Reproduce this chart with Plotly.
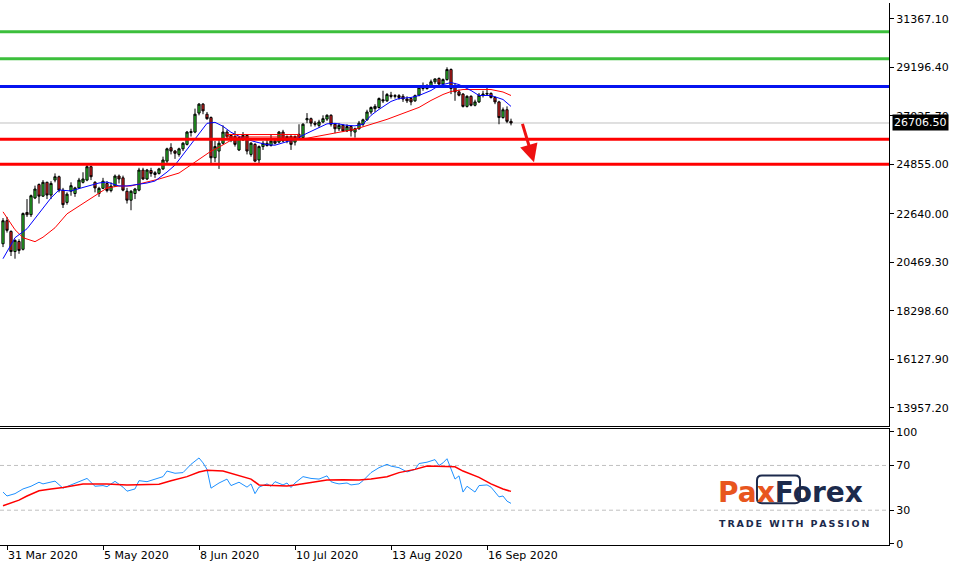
import pandas as pd
import plotly.graph_objects as go

# ---------------- categories (daily bars, US30 CFD) ----------------
_bd = pd.bdate_range("2020-03-30", "2020-09-24")
dates = [d.strftime("%Y-%m-%d") for d in _bd if d.strftime("%Y-%m-%d") != "2020-04-10"]

# ---------------- candle values ----------------
opens = [21300, 22330, 21850, 20950, 21400, 21050, 22700, 22600, 23350, 23950,
         23430, 24050, 23480, 24150, 24300, 23700, 23150, 23650, 23550, 23800,
         24050, 24150, 24750, 24050, 23550, 23780, 24000, 23680, 23880, 24330,
         24250, 23650, 23250, 23550, 23700, 24600, 24200, 24580, 24400, 24450,
         24650, 25000, 25600, 25450, 25300, 25550, 25750, 26280, 26300, 27150,
         27550, 27100, 26950, 25150, 25450, 25800, 26300, 26150, 26100, 25500,
         25950, 26150, 25300, 25750, 25050, 25650, 25800, 25700, 25900, 25850,
         26300, 25900, 26100, 25850, 26200, 26050, 26850, 26900, 26700, 26600,
         26750, 26880, 27050, 26650, 26450, 26600, 26350, 26550, 26300, 26450,
         26650, 26850, 27200, 27350, 27400, 27750, 27700, 27950, 27900, 27930,
         27900, 27780, 27800, 27700, 27950, 28250, 28250, 28380, 28550, 28700,
         28450, 28650, 29100, 28350, 28100, 28000, 27450, 27900, 27500, 27650,
         27950, 28000, 28030, 27850, 27650, 26950, 27300, 26780]
highs = [22450, 22500, 21900, 21500, 21500, 22700, 23300, 23500, 23900, 24000,
         24150, 24080, 24100, 24450, 24350, 23800, 23600, 24050, 23850, 24250,
         24500, 24900, 24800, 24100, 23850, 24250, 24100, 24050, 24400, 24400,
         24350, 23800, 23700, 23800, 24700, 24700, 24650, 24700, 24550, 24700,
         25200, 25600, 25800, 25500, 25600, 25850, 26350, 26450, 27350, 27600,
         27600, 27200, 27000, 25900, 25950, 26600, 26400, 26200, 26350, 26100,
         26300, 26200, 25850, 25800, 25700, 25900, 26000, 26200, 25950, 26350,
         26400, 26150, 26200, 26150, 26650, 26700, 27150, 26950, 26800, 26850,
         27050, 27100, 27100, 26700, 26700, 26650, 26650, 26600, 26500, 26800,
         26900, 27300, 27450, 27550, 27850, 28150, 28050, 28100, 28000, 28000,
         28000, 27900, 27850, 27980, 28350, 28520, 28450, 28650, 28700, 28750,
         28700, 29200, 29150, 28500, 28200, 28050, 27950, 27950, 27750, 28050,
         28150, 28350, 28080, 27900, 27700, 27400, 27450, 26900]
lows = [21150, 21800, 20750, 20630, 20850, 21000, 22500, 22500, 23300, 23100,
        23400, 23300, 23300, 24050, 23600, 22900, 23050, 23450, 23400, 23750,
        24000, 24100, 24150, 23600, 23400, 23750, 23600, 23600, 23850, 24000,
        23650, 23100, 22800, 23300, 23650, 24150, 24150, 24300, 24250, 24400,
        24600, 24900, 25300, 25100, 25200, 25450, 25700, 26100, 26250, 27050,
        27100, 26850, 24900, 24950, 24650, 25750, 26000, 25850, 25650, 25450,
        25900, 25300, 25200, 24950, 24900, 25500, 25650, 25650, 25750, 25800,
        25850, 25800, 25500, 25700, 26000, 25950, 26700, 26550, 26550, 26500,
        26700, 26800, 26550, 26250, 26350, 26300, 26300, 26100, 26050, 26400,
        26550, 26800, 27100, 27200, 27350, 27600, 27650, 27800, 27800, 27750,
        27650, 27600, 27500, 27650, 27900, 28150, 28200, 28300, 28450, 28400,
        28350, 28600, 28000, 27700, 27900, 27400, 27400, 27450, 27450, 27600,
        27850, 27950, 27800, 27550, 26650, 26900, 26700, 26600]
closes = [22330, 21900, 20950, 21450, 21000, 22650, 22600, 23450, 23750, 23430,
          24050, 23480, 24000, 24300, 23700, 23050, 23520, 23900, 23800, 24150,
          24200, 24750, 24300, 23800, 23780, 24100, 23680, 23880, 24330, 24200,
          23700, 23250, 23650, 23750, 24600, 24200, 24600, 24450, 24480, 24650,
          25050, 25550, 25450, 25350, 25550, 25800, 26300, 26320, 27100, 27550,
          27250, 26900, 25150, 25650, 25800, 26300, 26100, 25950, 25750, 26050,
          26150, 25450, 25800, 25000, 25650, 25800, 25700, 25900, 25800, 26300,
          25900, 26100, 25750, 26100, 26050, 26650, 26900, 26700, 26650, 26750,
          26900, 27050, 26650, 26450, 26600, 26350, 26550, 26350, 26450, 26700,
          26850, 27200, 27400, 27450, 27800, 27700, 27980, 27900, 27930, 27850,
          27780, 27700, 27650, 27930, 28300, 28300, 28380, 28550, 28680, 28450,
          28650, 29100, 28250, 28100, 27950, 27450, 27900, 27500, 27650, 27950,
          28000, 28030, 27850, 27650, 26950, 27300, 26780, 26706.5]

# moving averages (bar number, price)
ma_fast_idx = [0, 3, 6, 9, 12, 14, 17, 20, 24, 26, 29, 31, 33, 36, 38, 41, 43, 46, 48, 51,
               53, 55, 57, 60, 63, 66, 68, 71, 73, 76, 78, 81, 83, 86, 88, 90, 92, 94, 97, 99,
               102, 104, 107, 109, 112, 114, 117, 119, 122, 125, 127]
ma_fast_val = [20630, 21570, 21971, 22684, 23352, 23708, 23663, 23820, 24019, 24064,
               23886, 23886, 23930, 24019, 24108, 24509, 24821, 25534, 26024, 26691,
               26736, 26558, 26291, 26024, 25868, 25734, 25712, 25890, 25979, 26246,
               26424, 26669, 26691, 26602, 26580, 26647, 27048, 27315, 27671, 27805,
               27849, 27938, 28161, 28383, 28517, 28428, 28161, 27938, 27938, 27760, 27449]
ma_slow_idx = [0, 3, 5, 8, 10, 13, 16, 19, 23, 26, 29, 32, 36, 39, 44, 49, 52, 54, 57, 61,
               65, 69, 73, 76, 80, 84, 88, 92, 96, 100, 104, 107, 110, 112, 115, 118, 122, 125, 127]
ma_slow_val = [22728, 21927, 21570, 21393, 21593, 22016, 22639, 22995, 23441, 23797,
               23886, 23886, 24064, 24197, 24465, 25089, 25445, 25623, 25935, 26002,
               25979, 25935, 25979, 26024, 26157, 26291, 26424, 26647, 26869, 27137,
               27404, 27716, 27983, 28116, 28205, 28205, 28205, 28094, 27938]

# RSI panel (bar number, value)
rsi_idx = [0, 1, 3, 5, 7, 9, 10, 13, 15, 17, 19, 21, 23, 25, 26, 28, 30, 31, 33, 34,
           36, 38, 40, 41, 43, 45, 47, 49, 50, 51, 52, 54, 56, 57, 59, 61, 62, 63, 64, 66,
           67, 68, 70, 71, 72, 73, 75, 77, 79, 81, 82, 83, 84, 86, 87, 89, 90, 92, 94, 96,
           97, 99, 101, 103, 104, 106, 108, 109, 110, 111, 112, 113, 114, 115, 116, 118, 119, 121, 122, 124,
           125, 126, 127]
rsi_val = [46.2, 42.7, 44.8, 49, 51.4, 55, 53.5, 56, 49.7, 52.6, 55.5, 58.4, 51.4, 52, 51, 55.8, 50.6, 47, 49, 56.4,
           55.5, 57.8, 60, 65, 63, 63.6, 71, 76.7, 72.3, 66.5, 49.7, 54.3, 57.8, 52, 55, 50.6, 53.5, 44.8, 50.6, 53.5,
           51.4, 55.5, 52.6, 54.3, 50.3, 54.3, 60, 58.4, 57.8, 60.7, 55.5, 54.3, 53.5, 54.3, 52.6, 53.5, 56.4, 63.6, 68, 71,
           69.4, 68, 64.2, 66.5, 71.7, 72.9, 75.2, 70, 72.3, 76, 66.5, 57.8, 60.7, 46.2, 51.4, 46.2, 52, 52.6, 50.6, 41.9,
           42.7, 38.1, 36.1]
rsi_sig_idx = [0, 4, 6, 9, 12, 15, 20, 26, 31, 35, 39, 42, 46, 49, 51, 55, 58, 62, 64, 67,
               71, 73, 77, 81, 85, 89, 92, 96, 99, 103, 106, 110, 113, 115, 119, 122, 125, 127]
rsi_sig_val = [34, 39, 42.7, 47.4, 49, 50.3, 53.5, 53.5, 52.6, 52.6, 53.2, 56.4, 60, 64.2, 65.6, 65, 62.2, 57.8, 52.6, 52,
               51.7, 52.6, 54.9, 57, 57.2, 57, 57.8, 59.9, 63.6, 66.5, 69.4, 69.4, 68.8, 65, 59.3, 53.5, 49, 46.8]

# axis ticks
price_tick_vals = [31367.10, 29196.40, 27025.70, 24855.00, 22640.00, 20469.30, 18298.60, 16127.90, 13957.20]
price_tick_text = ["31367.10", "29196.40", "27025.70", "24855.00", "22640.00", "20469.30", "18298.60", "16127.90", "13957.20"]
rsi_tick_vals = [0, 30, 70, 100]
rsi_tick_text = ["0", "30", "70", "100"]
date_tick_cats = ["2020-03-31", "2020-05-05", "2020-06-08", "2020-07-10", "2020-08-13", "2020-09-16"]
date_tick_text = ["31 Mar 2020", "5 May 2020", "8 Jun 2020", "10 Jul 2020", "13 Aug 2020", "16 Sep 2020"]

# drawn levels / objects
green_levels = [30788, 29586]
blue_levels = [28339]
red_levels = [25979, 24855]
current_price = 26706.5
zone_dates = ["2020-06-17", "2020-07-13"]
zone_prices = [26080, 26190]
arrow_from = [129.75, 26736]
arrow_to = [132.75, 24950]
rsi_levels = [30, 70]

# ---------------- styles ----------------
C_UP = "#2fd32f"
C_DN = "#e42222"
C_GREEN = "#3cbf3c"
C_BLUE = "#0614f0"
C_RED = "#ff0000"
FONT = dict(family="DejaVu Sans", size=11, color="black")
XRANGE = [-0.75, 221.5]

fig = go.Figure()
fig.add_trace(go.Candlestick(
    x=dates, open=opens, high=highs, low=lows, close=closes,
    increasing=dict(line=dict(color="black", width=1), fillcolor=C_UP),
    decreasing=dict(line=dict(color="black", width=1), fillcolor=C_DN),
    whiskerwidth=0, xaxis="x", yaxis="y", hoverinfo="skip"))
fig.add_trace(go.Scatter(x=[dates[i] for i in ma_slow_idx], y=ma_slow_val, mode="lines",
                         line=dict(color="#ff0000", width=1), xaxis="x", yaxis="y"))
fig.add_trace(go.Scatter(x=[dates[i] for i in ma_fast_idx], y=ma_fast_val, mode="lines",
                         line=dict(color="#0000ff", width=1), xaxis="x", yaxis="y"))
fig.add_trace(go.Scatter(x=[dates[i] for i in rsi_idx], y=rsi_val, mode="lines",
                         line=dict(color="#1e90ff", width=1), xaxis="x2", yaxis="y2"))
fig.add_trace(go.Scatter(x=[dates[i] for i in rsi_sig_idx], y=rsi_sig_val, mode="lines",
                         line=dict(color="#ff0000", width=1.5), xaxis="x2", yaxis="y2"))

shapes = []
shapes.append(dict(type="line", xref="paper", x0=0, x1=1, yref="y", y0=current_price, y1=current_price,
                   line=dict(color="#c0c0c0", width=1), layer="below"))
for v in green_levels:
    shapes.append(dict(type="line", xref="paper", x0=0, x1=1, yref="y", y0=v, y1=v,
                       line=dict(color=C_GREEN, width=3)))
for v in blue_levels:
    shapes.append(dict(type="line", xref="paper", x0=0, x1=1, yref="y", y0=v, y1=v,
                       line=dict(color=C_BLUE, width=3)))
for v in red_levels:
    shapes.append(dict(type="line", xref="paper", x0=0, x1=1, yref="y", y0=v, y1=v,
                       line=dict(color=C_RED, width=3)))
shapes.append(dict(type="rect", xref="x", x0=zone_dates[0], x1=zone_dates[1], yref="y",
                   y0=zone_prices[0], y1=zone_prices[1], line=dict(color=C_RED, width=1)))
for v in rsi_levels:
    shapes.append(dict(type="line", xref="paper", x0=0, x1=1, yref="y2", y0=v, y1=v,
                       line=dict(color="#c0c0c0", width=1, dash="4px,3px"), layer="below"))

# logo box (rounded) around "xF"
bx0, bx1, byt, byb, rx, ry = 0.8515, 0.8999, 0.1284, 0.0771, 0.0056, 0.0092
logo_path = (f"M {bx0+rx},{byt} L {bx1-rx},{byt} Q {bx1},{byt} {bx1},{byt-ry} L {bx1},{byb+ry} "
             f"Q {bx1},{byb} {bx1-rx},{byb} L {bx0+rx},{byb} Q {bx0},{byb} {bx0},{byb+ry} "
             f"L {bx0},{byt-ry} Q {bx0},{byt} {bx0+rx},{byt} Z")
shapes.append(dict(type="path", xref="paper", yref="paper", path=logo_path,
                   line=dict(color="#1c2a4c", width=2)))

annotations = [
    dict(x=1, xref="paper", y=current_price, yref="y", xanchor="left", yanchor="middle", xshift=3,
         text="26706.50", showarrow=False, bgcolor="black", borderpad=1,
         font=dict(family="DejaVu Sans", size=11, color="white")),
    dict(x=arrow_to[0], y=arrow_to[1], xref="x", yref="y", ax=arrow_from[0], ay=arrow_from[1],
         axref="x", ayref="y", showarrow=True, arrowhead=2, arrowsize=1.2, arrowwidth=3,
         arrowcolor="#ee1111", text=""),
    dict(x=0.8054, xref="paper", y=0.0972, yref="paper", xanchor="left", yanchor="middle",
         showarrow=False,
         text="<span style='color:#e8561e'>Pax</span><span style='color:#1c2a4c'>Forex</span>",
         font=dict(family="DejaVu Sans", size=28, weight="bold")),
    dict(x=0.8065, xref="paper", y=0.0394, yref="paper", xanchor="left", yanchor="middle",
         showarrow=False,
         text="\u2009".join("TRADE") + "\u2009 \u2009" + "\u2009".join("WITH") + "\u2009 \u2009" + "\u2009".join("PASSION"),
         font=dict(family="DejaVu Sans", size=9.5, weight="bold", color="#1c2a4c")),
]

fig.update_layout(
    width=959, height=563,
    margin=dict(l=0, r=70, t=0, b=18),
    paper_bgcolor="white", plot_bgcolor="white",
    showlegend=False, boxgap=0.45, boxgroupgap=0,
    hovermode=False,
    shapes=shapes, annotations=annotations,
    xaxis=dict(type="category", categoryorder="array", categoryarray=dates, range=XRANGE,
               domain=[0, 1], anchor="y", showline=True, linecolor="black", linewidth=1,
               showticklabels=False, ticks="", showgrid=False, zeroline=False,
               rangeslider=dict(visible=False)),
    yaxis=dict(domain=[0.2202, 1], range=[13154.3, 32079.5], side="right", anchor="x",
               showline=True, linecolor="black", linewidth=1, ticks="outside", ticklen=4,
               tickcolor="black", tickvals=price_tick_vals, ticktext=price_tick_text,
               showgrid=False, zeroline=False, tickfont=FONT),
    xaxis2=dict(type="category", categoryorder="array", categoryarray=dates, range=XRANGE,
                domain=[0, 1], anchor="y2", showline=True, mirror=True, linecolor="black",
                linewidth=1, ticks="outside", ticklen=4, tickcolor="black",
                tickvals=date_tick_cats, ticktext=date_tick_text, ticklabelposition="outside right",
                showgrid=False, zeroline=False, tickfont=FONT),
    yaxis2=dict(domain=[0, 0.2147], range=[-1.1, 102.9], side="right", anchor="x2",
                showline=True, linecolor="black", linewidth=1, ticks="outside", ticklen=4,
                tickcolor="black", tickvals=rsi_tick_vals, ticktext=rsi_tick_text,
                showgrid=False, zeroline=False, tickfont=FONT),
)

fig.write_html("out.html", config={"displayModeBar": False, "staticPlot": True},
               post_script="document.body.style.margin='0';document.body.style.overflow='hidden';")
